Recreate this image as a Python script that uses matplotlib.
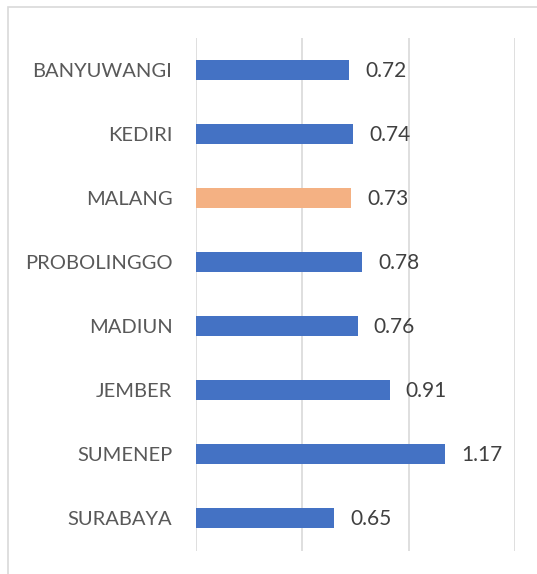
import matplotlib
matplotlib.use('Agg')
import matplotlib.pyplot as plt
from matplotlib.patches import Rectangle

# data, top to bottom as in the chart
cities = ['BANYUWANGI', 'KEDIRI', 'MALANG', 'PROBOLINGGO', 'MADIUN', 'JEMBER', 'SUMENEP', 'SURABAYA']
values = [0.72, 0.74, 0.73, 0.78, 0.76, 0.91, 1.17, 0.65]
highlight = 'MALANG'

plt.rcParams['font.family'] = ['Lato', 'DejaVu Sans']

W, H = 537, 574
fig = plt.figure(figsize=(W / 100, H / 100), dpi=100)
fig.patch.set_facecolor('white')

# chart frame (only top and left edges visible in the crop)
fig.patches.append(Rectangle((8 / W, -0.1), 1.2, 1 - 7.5 / H + 0.1, transform=fig.transFigure,
                             fill=False, edgecolor='#d9d9d9', linewidth=1.2))

ax = fig.add_axes([196 / W, 1 - 550.5 / H, (515 - 196) / W, (550.5 - 37.5) / H])

ypos = list(range(len(cities)))[::-1]
colors = ['#F4B183' if c == highlight else '#4472C4' for c in cities]
ax.barh(ypos, values, height=0.31, color=colors, zorder=3)

for y, v in zip(ypos, values):
    ax.annotate(f'{v:.2f}', (v, y), xytext=(16, -1), textcoords='offset pixels',
                ha='left', va='center', fontsize=15, color='#404040')

ax.set_xlim(0, 1.5)
ax.set_ylim(-0.5, len(cities) - 0.5)
ax.set_xticks([0, 0.5, 1.0, 1.5])
ax.set_xticklabels([])
ax.grid(axis='x', color='#d9d9d9', linewidth=1.2, zorder=0)
ax.set_yticks(ypos)
ax.set_yticklabels(cities, fontsize=14.5, color='#595959')
ax.tick_params(axis='y', length=0, pad=17)
ax.tick_params(axis='x', length=0)
for s in ax.spines.values():
    s.set_visible(False)

fig.savefig('out.png', dpi=100)
